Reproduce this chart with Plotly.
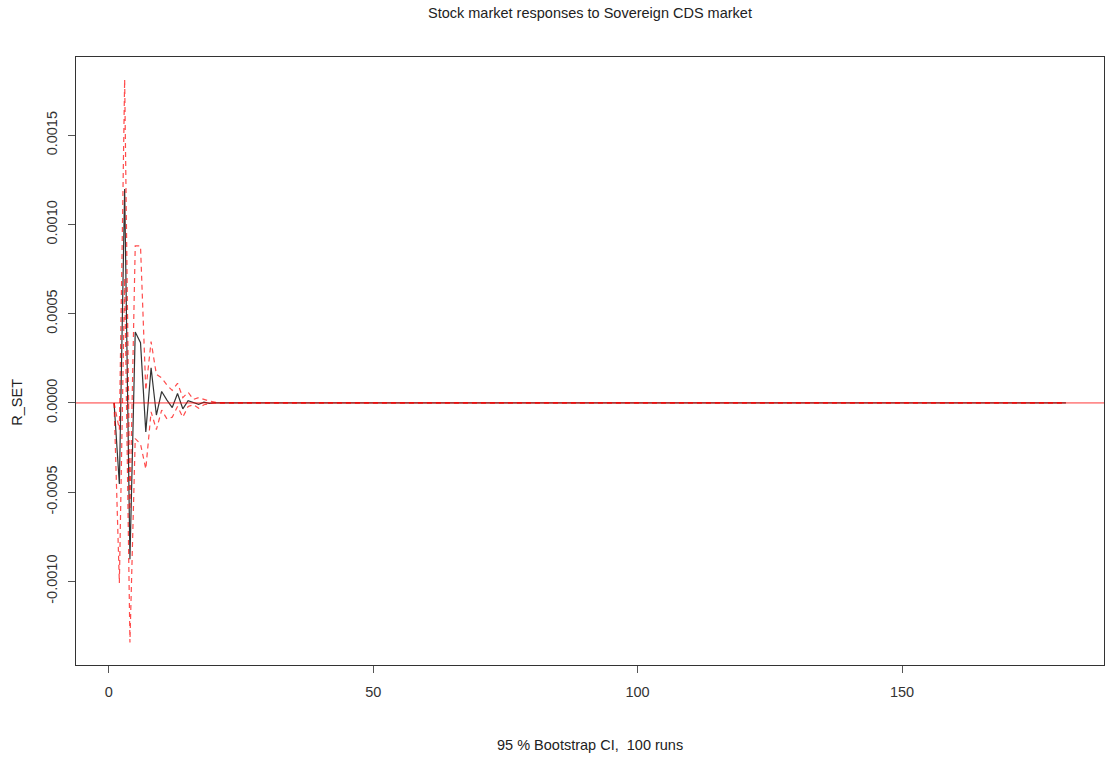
import plotly.graph_objects as go

# horizon steps 1..181
n_steps = 181
steps = list(range(1, n_steps + 1))

irf_head = [0.0, -0.000454, 0.001199, -0.000877, 0.000397, 0.000338, -0.000163,
            0.000197, -0.000068, 0.000064, 0.000016, -0.000026, 0.000053, -0.000033,
            0.000012, 0.000002, -0.000008, 0.000004, -0.000002, 0.000001]
upper_head = [0.0, -0.00015, 0.001813, -0.00060, 0.000880, 0.000880, 0.00007,
              0.000344, 0.00016, 0.00014, 0.00010, 0.00007, 0.00011, 0.00003,
              0.00006, 0.00002, 0.00003, 0.00002, 0.00001, 0.000005]
lower_head = [0.0, -0.001009, 0.00070, -0.001343, -0.00020, -0.00023, -0.00037,
              -0.00005, -0.00015, -0.00004, -0.00009, -0.00008, -0.00002, -0.00008,
              -0.00002, -0.00001, -0.00003, -0.00001, -0.000005, 0.0]

irf = irf_head + [0.0] * (n_steps - len(irf_head))
upper = upper_head + [0.0] * (n_steps - len(upper_head))
lower = lower_head + [0.0] * (n_steps - len(lower_head))

x_ticks = [0, 50, 100, 150]
y_ticks = [-0.0010, -0.0005, 0.0000, 0.0005, 0.0010, 0.0015]
y_tick_text = ["-0.0010", "-0.0005", "0.0000", "0.0005", "0.0010", "0.0015"]

title = "Stock market responses to Sovereign CDS market"
xlab = "95 % Bootstrap CI,  100 runs"
ylab = "R_SET"

# R-style 4% axis extension
xmin, xmax = min(steps), max(steps)
xpad = (xmax - xmin) * 0.04
ally = irf + upper + lower
ymin, ymax = min(ally), max(ally)
ypad = (ymax - ymin) * 0.04

font = "Liberation Sans, Arial, sans-serif"
fs = 14.5

fig = go.Figure()
fig.add_trace(go.Scatter(x=steps, y=irf, mode="lines",
                         line=dict(color="#333333", width=1.2), showlegend=False))
fig.add_trace(go.Scatter(x=[xmin - xpad, xmax + xpad], y=[0, 0], mode="lines",
                         line=dict(color="rgba(255,0,0,0.45)", width=1.8), showlegend=False))
for band in (upper, lower):
    fig.add_trace(go.Scatter(x=steps, y=band, mode="lines",
                             line=dict(color="rgba(255,0,0,0.7)", width=1.2, dash="5px,4px"),
                             showlegend=False))

axis_common = dict(showgrid=False, zeroline=False, showline=True, linecolor="#333333",
                   linewidth=1.2, mirror=True, ticks="outside", ticklen=7,
                   tickcolor="#555555", tickwidth=1.2,
                   tickfont=dict(family=font, size=fs, color="#333333"))

fig.update_layout(
    width=1110, height=762,
    margin=dict(l=76, r=6, t=57, b=97),
    paper_bgcolor="white", plot_bgcolor="white",
    title=dict(text=title, x=0.5315, xanchor="center", y=1 - 13 / 762, yanchor="middle",
               font=dict(family=font, size=fs, color="#222222")),
    xaxis=dict(range=[xmin - xpad, xmax + xpad], tickvals=x_ticks,
               ticktext=[str(t) for t in x_ticks], ticklabelstandoff=6, **axis_common),
    yaxis=dict(range=[ymin - ypad, ymax + ypad], tickvals=y_ticks, ticktext=y_tick_text,
               tickangle=-90, ticklabelstandoff=5, **axis_common),
    annotations=[
        dict(text=xlab, xref="paper", yref="paper", x=0.5, y=-80 / 608, xanchor="center",
             yanchor="middle", showarrow=False,
             font=dict(family=font, size=fs, color="#222222")),
        dict(text=ylab, xref="paper", yref="paper", x=-59 / 1028, y=(665 - 402.7) / 608,
             xanchor="center", yanchor="middle", textangle=-90, showarrow=False,
             font=dict(family=font, size=fs, color="#222222")),
    ],
)

fig.write_html("out.html")
